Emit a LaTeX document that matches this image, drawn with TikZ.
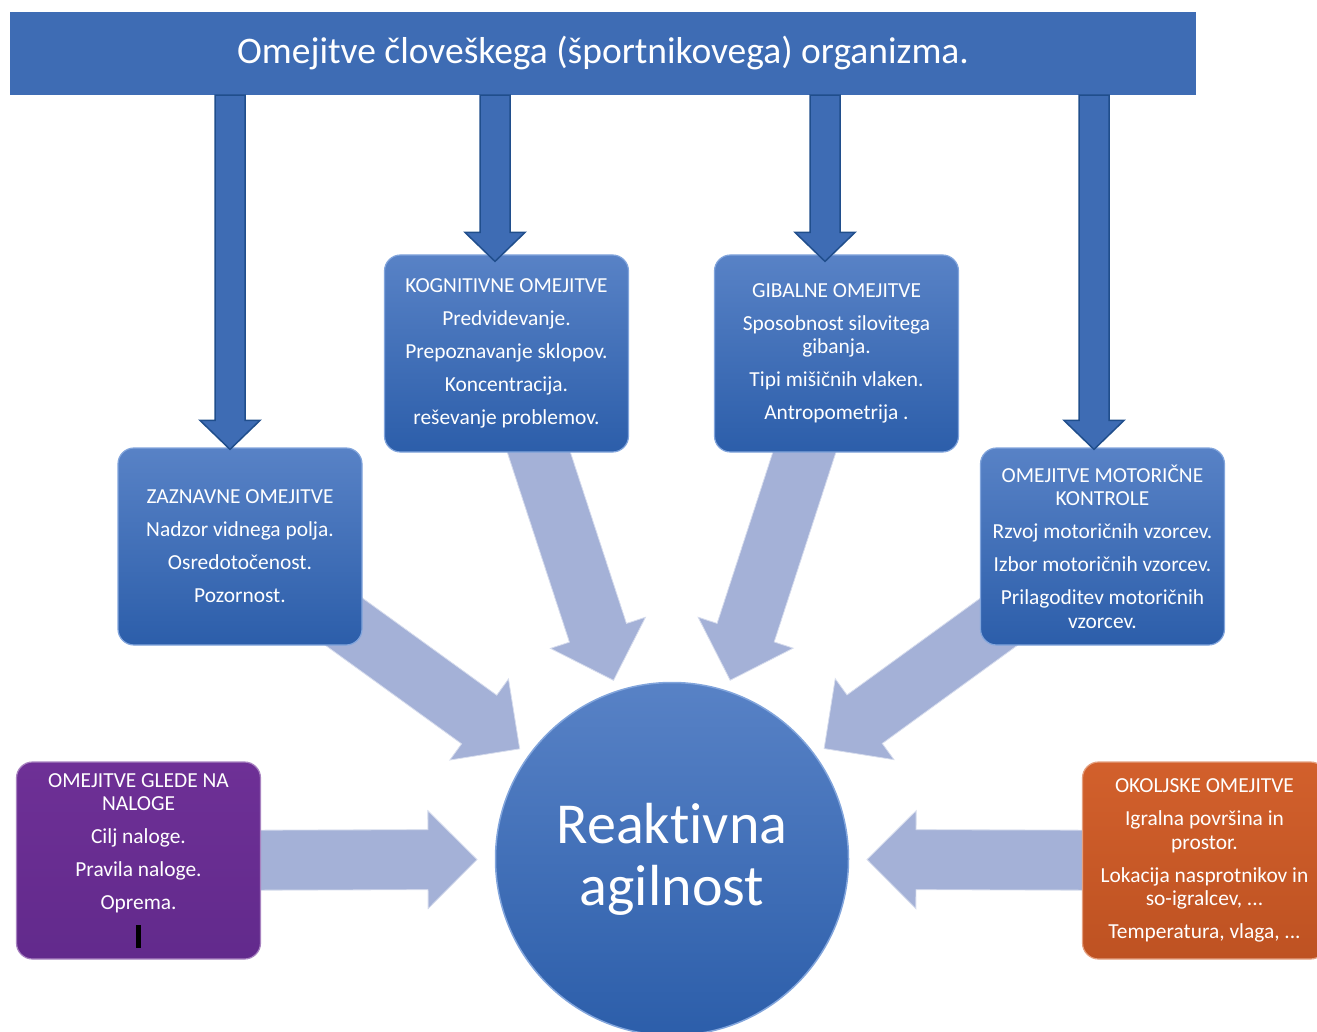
\documentclass[tikz,border=0pt]{standalone}
\usepackage{fontspec}
\setmainfont{Carlito}[Ligatures=NoCommon]
\usetikzlibrary{calc,backgrounds}

\definecolor{barblue}{RGB}{62,108,180}
\definecolor{arrowedge}{RGB}{32,78,140}
\definecolor{boxtop}{RGB}{88,130,198}
\definecolor{boxbot}{RGB}{44,94,170}
\definecolor{boxedge}{RGB}{130,165,220}
\definecolor{arrowlight}{RGB}{164,177,215}
\definecolor{purpletop}{RGB}{110,48,150}
\definecolor{purplebot}{RGB}{98,42,140}
\definecolor{orangetop}{RGB}{210,96,44}
\definecolor{orangebot}{RGB}{190,82,34}

% block arrow: style, from, to, shaft half width, head half width, head length
\newcommand{\strelica}[6]{%
  \coordinate (hb) at ($(#3)!#6!(#2)$);
  \path[#1] ($(#2)!#4!90:(#3)$) -- ($(hb)!#4!90:(#3)$) -- ($(hb)!#5!90:(#3)$) -- (#3)
    -- ($(hb)!#5!-90:(#3)$) -- ($(hb)!#4!-90:(#3)$) -- ($(#2)!#4!-90:(#3)$) -- cycle;}

\begin{document}
\begin{tikzpicture}[x=1pt,y=-1pt]
\useasboundingbox (0,0) rectangle (1317,1032);
\tikzstyle{okvir}=[rectangle,rounded corners=16pt,minimum width=244pt,minimum height=197pt,inner sep=2pt,align=center,text=white,font=\fontsize{21.4}{23.5}\selectfont,draw=boxedge,line width=1.2pt,top color=boxtop,bottom color=boxbot]
\tikzstyle{tamna}=[fill=barblue,draw=arrowedge,line width=1.5pt,line join=miter]
\tikzstyle{svetla}=[fill=arrowlight,draw=white!55!arrowlight,line width=0.8pt]
\node[rectangle,fill=barblue,minimum width=1186pt,minimum height=83pt,text=white,font=\fontsize{37.5}{40}\selectfont] (title) at (603,53.5) {Omejitve človeškega (športnikovega) organizma.};
\node[okvir] (zaznavne) at (240,546.5) {ZAZNAVNE OMEJITVE\\[9.5pt]Nadzor vidnega polja.\\[9.5pt]Osredotočenost.\\[9.5pt]Pozornost.};
\node[okvir] (kognitivne) at (506.5,353.5) {KOGNITIVNE OMEJITVE\\[9.5pt]Predvidevanje.\\[9.5pt]Prepoznavanje sklopov.\\[9.5pt]Koncentracija.\\[9.5pt]reševanje problemov.};
\node[okvir] (gibalne) at (836.5,353.5) {GIBALNE OMEJITVE\\[9.5pt]Sposobnost silovitega\\gibanja.\\[9.5pt]Tipi mišičnih vlaken.\\[9.5pt]Antropometrija .};
\node[okvir] (motoricne) at (1102.5,546.5) {OMEJITVE MOTORIČNE\\KONTROLE\\[9.5pt]Rzvoj motoričnih vzorcev.\\[9.5pt]Izbor motoričnih vzorcev.\\[9.5pt]Prilagoditev motoričnih\\vzorcev.};
\node[okvir,top color=purpletop,bottom color=purplebot,draw=purpletop!60!white] (naloge) at (138.5,860.5) {OMEJITVE GLEDE NA\\NALOGE\\[9.5pt]Cilj naloge.\\[9.5pt]Pravila naloge.\\[9.5pt]Oprema.\\[9.5pt]\textcolor{black}{\rule[-5pt]{5pt}{23pt}}};
\node[okvir,top color=orangetop,bottom color=orangebot,draw=orangetop!60!white] (okoljske) at (1204.5,860.5) {OKOLJSKE OMEJITVE\\[9.5pt]Igralna površina in\\prostor.\\[9.5pt]Lokacija nasprotnikov in\\so-igralcev, ...\\[9.5pt]Temperatura, vlaga, ...};
\node[circle,minimum size=353pt,inner sep=0pt,top color=boxtop,bottom color=boxbot,draw=boxedge,line width=1.5pt,align=center,text=white,font=\fontsize{58}{62}\selectfont] (krog) at (672,859) {Reaktivna\\agilnost};
%\node (krog) at (672,859) {};
\coordinate (tA) at ($(krog.center)!188pt!(zaznavne.center)$);
\coordinate (tB) at ($(krog.center)!188pt!(kognitivne.center)$);
\coordinate (tC) at ($(krog.center)!188pt!(gibalne.center)$);
\coordinate (tD) at ($(krog.center)!188pt!(motoricne.center)$);
\coordinate (tE) at ($(krog.center)!195pt!(naloge.center)$);
\coordinate (tF) at ($(krog.center)!195pt!(okoljske.center)$);
\begin{pgfonlayer}{background}
\strelica{svetla}{zaznavne.center}{tA}{30pt}{50pt}{50pt}
\strelica{svetla}{kognitivne.center}{tB}{30pt}{50pt}{50pt}
\strelica{svetla}{gibalne.center}{tC}{30pt}{50pt}{50pt}
\strelica{svetla}{motoricne.center}{tD}{30pt}{50pt}{50pt}
\strelica{svetla}{naloge.center}{tE}{30pt}{49pt}{49pt}
\strelica{svetla}{okoljske.center}{tF}{30pt}{49pt}{49pt}
\end{pgfonlayer}
\coordinate (v1) at ([xshift=-10pt,yshift=-2pt]zaznavne.north);
\coordinate (v2) at ([xshift=-11.5pt,yshift=-7pt]kognitivne.north);
\coordinate (v3) at ([xshift=-11.5pt,yshift=-7pt]gibalne.north);
\coordinate (v4) at ([xshift=-8.5pt,yshift=-2pt]motoricne.north);
\strelica{tamna}{title.south -| v1}{v1}{15pt}{30pt}{29pt}
\strelica{tamna}{title.south -| v2}{v2}{15pt}{30pt}{29pt}
\strelica{tamna}{title.south -| v3}{v3}{15pt}{30pt}{29pt}
\strelica{tamna}{title.south -| v4}{v4}{15pt}{30pt}{29pt}
\end{tikzpicture}
\end{document}
